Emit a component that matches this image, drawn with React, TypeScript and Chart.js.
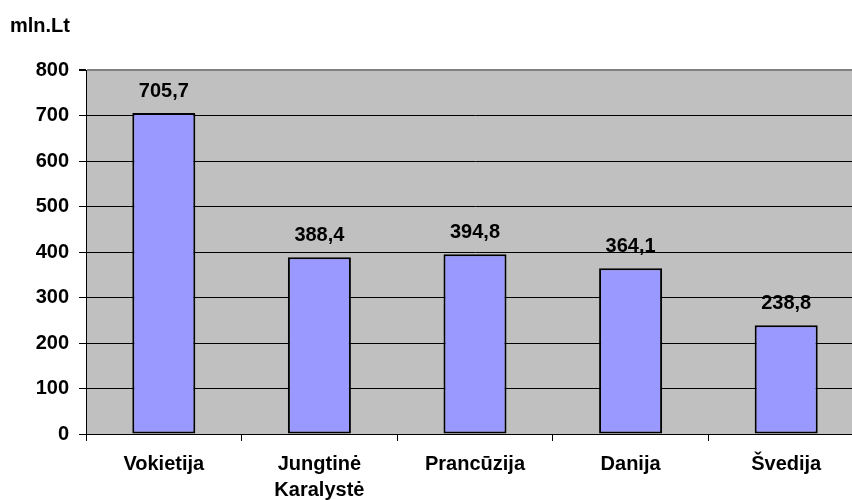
import React, { useEffect, useRef } from "react";
import { Chart, registerables } from "chart.js";

Chart.register(...registerables);

const categories: (string | string[])[] = ["Vokietija", ["Jungtinė", "Karalystė"], "Prancūzija", "Danija", "Švedija"];
const values: number[] = [705.7, 388.4, 394.8, 364.1, 238.8];
const valueLabels: string[] = ["705,7", "388,4", "394,8", "364,1", "238,8"];
const yTicks: number[] = [0, 100, 200, 300, 400, 500, 600, 700, 800];
const unitLabel = "mln.Lt";

const FONT = "'Liberation Sans', Arial, sans-serif";

export default function App() {
  const ref = useRef<HTMLCanvasElement | null>(null);
  useEffect(() => {
    if (!ref.current) return;
    const bgPlugin = {
      id: "bgPlugin",
      beforeDraw(chart: any) {
        const { ctx, chartArea } = chart;
        ctx.save();
        ctx.fillStyle = "#C0C0C0";
        ctx.fillRect(chartArea.left, chartArea.top, chartArea.right - chartArea.left, chartArea.bottom - chartArea.top);
        ctx.restore();
      },
      afterDraw(chart: any) {
        const { ctx } = chart;
        ctx.save();
        ctx.fillStyle = "#000";
        ctx.font = `bold 20px ${FONT}`;
        ctx.textAlign = "left";
        ctx.textBaseline = "alphabetic";
        ctx.fillText(unitLabel, 10, 32);
        ctx.restore();
      },
      afterDatasetsDraw(chart: any) {
        const { ctx } = chart;
        const meta = chart.getDatasetMeta(0);
        ctx.save();
        ctx.fillStyle = "#000";
        ctx.font = `bold 20px ${FONT}`;
        ctx.textAlign = "center";
        ctx.textBaseline = "alphabetic";
        meta.data.forEach((el: any, i: number) => {
          ctx.fillText(valueLabels[i], el.x, el.y - 16);
        });
        ctx.restore();
      },
    };
    const chart = new Chart(ref.current, {
      type: "bar",
      data: {
        labels: categories as any,
        datasets: [
          {
            data: values,
            backgroundColor: "#9999FF",
            borderColor: "#000000",
            borderWidth: 2,
            borderSkipped: false,
            categoryPercentage: 0.81,
            barPercentage: 0.5,
          },
        ],
      },
      options: {
        animation: false,
        responsive: false,
        devicePixelRatio: 1,
        layout: { padding: { top: 70, left: 0, right: 0, bottom: 0 } },
        plugins: { legend: { display: false }, tooltip: { enabled: false } },
        scales: {
          x: {
            grid: { offset: true, drawOnChartArea: false, drawTicks: true, tickLength: 7, color: "#000", tickColor: "#000" },
            border: { display: true, color: "#000", width: 1 },
            ticks: { color: "#000", font: { family: FONT, size: 20, weight: "bold", lineHeight: 1.33 }, padding: 10, maxRotation: 0, autoSkip: false },
            afterFit: (s: any) => { s.height = 66; },
          },
          y: {
            min: 0,
            max: 800,
            afterBuildTicks: (s: any) => { s.ticks = yTicks.map((v) => ({ value: v })); },
            grid: {
              drawTicks: true,
              tickLength: 7,
              color: (c: any) => (c.tick && c.tick.value === 800 ? "#808080" : "#000"),
              lineWidth: (c: any) => (c.tick && c.tick.value === 800 ? 2 : 1),
              tickColor: "#000",
            },
            border: { display: true, color: "#000", width: 1 },
            ticks: { color: "#000", font: { family: FONT, size: 20, weight: "bold" }, padding: 10 },
            afterFit: (s: any) => { s.width = 86; },
          },
        },
      },
      plugins: [bgPlugin],
    });
    return () => chart.destroy();
  }, []);
  return (
    <div style={{ position: "fixed", left: 0, top: 0, width: 852, height: 500, background: "#fff", overflow: "hidden" }}>
      <canvas ref={ref} width={864} height={500} style={{ width: 864, height: 500, display: "block" }} />
    </div>
  );
}
